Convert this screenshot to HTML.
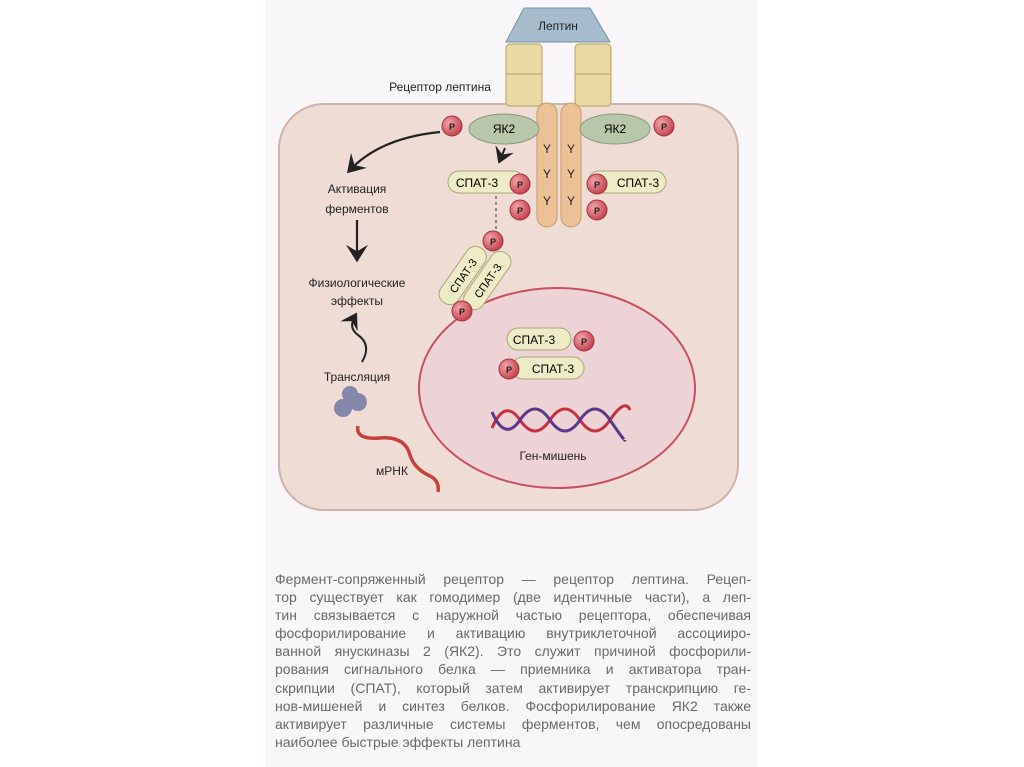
<!DOCTYPE html>
<html><head><meta charset="utf-8"><style>
body{margin:0;background:#fff;width:1024px;height:767px;overflow:hidden;font-family:"Liberation Sans",sans-serif}
#panel{position:absolute;left:265px;top:0;width:492px;height:767px;background:#f8f6f8}
#cap{position:absolute;left:275px;top:570px;width:476px;font-size:14px;line-height:18.1px;color:#6a6a6a}
#cap div{text-align:justify;text-align-last:justify;white-space:nowrap;height:18.1px}
#cap div.l{text-align-last:left}
svg{position:absolute;left:0;top:0}
svg text{font-family:"Liberation Sans",sans-serif}
</style></head><body>
<div id="panel"></div>
<svg width="1024" height="767">
<defs>
<radialGradient id="pg" cx="0.35" cy="0.35" r="0.7"><stop offset="0" stop-color="#f3a3a8"/><stop offset="1" stop-color="#c2404c"/></radialGradient>
<marker id="ar" markerWidth="10" markerHeight="10" refX="6" refY="5" orient="auto"><path d="M0,0 L8,5 L0,10 L3,5z" fill="#222"/></marker>
</defs>
<rect x="279" y="104" width="459" height="406" rx="45" fill="#efdcd5" stroke="#cdb3aa" stroke-width="2"/>
<ellipse cx="557" cy="388" rx="138" ry="100" fill="#edd3d6" stroke="#c85060" stroke-width="2"/>
<polygon points="524,8 590,8 610,42 506,42" fill="#a6bccd" stroke="#7890a0"/>
<text x="558" y="30" font-size="12" text-anchor="middle" fill="#222">Лептин</text>
<g fill="#e9d9a4" stroke="#b9a060">
<rect x="506" y="44" width="36" height="62" rx="4"/><rect x="575" y="44" width="36" height="62" rx="4"/>
</g>
<g stroke="#b9a060" fill="none"><line x1="506" y1="74" x2="542" y2="74"/><line x1="575" y1="74" x2="611" y2="74"/></g>
<text x="440" y="91" font-size="12" text-anchor="middle" fill="#222">Рецептор лептина</text>
<g fill="#ecc196" stroke="#c39a6e"><rect x="537" y="103" width="20" height="124" rx="10"/><rect x="561" y="103" width="20" height="124" rx="10"/></g>
<g font-size="12" fill="#222" text-anchor="middle"><text x="547" y="153">Y</text><text x="571" y="153">Y</text><text x="547" y="178">Y</text><text x="571" y="178">Y</text><text x="547" y="205">Y</text><text x="571" y="205">Y</text></g>
<ellipse cx="504" cy="129" rx="35" ry="15" fill="#b8c7a9" stroke="#8a9a7c"/>
<ellipse cx="615" cy="129" rx="35" ry="15" fill="#b8c7a9" stroke="#8a9a7c"/>
<text x="504" y="133" font-size="12" text-anchor="middle">ЯК2</text>
<text x="615" y="133" font-size="12" text-anchor="middle">ЯК2</text>
<g fill="#eeecc6" stroke="#a9a67a">
<rect x="448" y="171" width="76" height="22" rx="11"/><rect x="588" y="171" width="78" height="22" rx="11"/>
<rect x="507" y="328" width="64" height="22" rx="11"/><rect x="512" y="357" width="72" height="22" rx="11"/>
</g>
<text x="477" y="187" font-size="12" text-anchor="middle">СПАТ-3</text>
<text x="638" y="187" font-size="12" text-anchor="middle">СПАТ-3</text>
<text x="534" y="344" font-size="12" text-anchor="middle">СПАТ-3</text>
<text x="553" y="373" font-size="12" text-anchor="middle">СПАТ-3</text>
<g transform="translate(475,278) rotate(-55)">
<rect x="-38" y="-22" width="66" height="21" rx="10" fill="#eeecc6" stroke="#a9a67a"/>
<rect x="-28" y="1" width="66" height="21" rx="10" fill="#eeecc6" stroke="#a9a67a"/>
<text x="-5" y="-7" font-size="11" text-anchor="middle">СПАТ-3</text><text x="5" y="16" font-size="11" text-anchor="middle">СПАТ-3</text>
</g>
<line x1="496" y1="196" x2="496" y2="232" stroke="#333" stroke-dasharray="3,3"/>
<g fill="url(#pg)" stroke="#a03040">
<circle cx="452" cy="126" r="10"/><circle cx="664" cy="126" r="10"/>
<circle cx="520" cy="184" r="10"/><circle cx="520" cy="210" r="10"/>
<circle cx="597" cy="184" r="10"/><circle cx="597" cy="210" r="10"/>
<circle cx="493" cy="241" r="10"/><circle cx="462" cy="311" r="10"/>
<circle cx="584" cy="341" r="10"/><circle cx="509" cy="369" r="10"/>
</g>
<g font-size="9" font-weight="bold" text-anchor="middle" fill="#222">
<text x="452" y="130">P</text><text x="664" y="130">P</text><text x="520" y="188">P</text><text x="520" y="214">P</text>
<text x="597" y="188">P</text><text x="597" y="214">P</text><text x="493" y="245">P</text><text x="462" y="315">P</text>
<text x="584" y="345">P</text><text x="509" y="373">P</text></g>
<path d="M440,132 Q380,138 350,170" fill="none" stroke="#222" stroke-width="2.2" marker-end="url(#ar)"/>
<path d="M505,148 L500,160" stroke="#222" stroke-width="2" marker-end="url(#ar)"/>
<path d="M357,220 L357,258" stroke="#222" stroke-width="2.2" marker-end="url(#ar)"/>
<path d="M362,362 Q372,345 358,335 Q348,328 355,316" fill="none" stroke="#222" stroke-width="2" marker-end="url(#ar)"/>
<g font-size="12" text-anchor="middle" fill="#222">
<text x="357" y="193">Активация</text><text x="357" y="213">ферментов</text>
<text x="357" y="287">Физиологические</text><text x="357" y="305">эффекты</text>
<text x="357" y="381">Трансляция</text><text x="392" y="475">мРНК</text>
<text x="553" y="460">Ген-мишень</text></g>
<g fill="#8587aa"><circle cx="343" cy="408" r="9"/><circle cx="358" cy="402" r="9"/><circle cx="350" cy="394" r="8"/></g>
<path d="M358,426 Q355,440 380,438 Q405,436 410,455 Q414,468 428,475 Q440,480 438,492" fill="none" stroke="#c8403c" stroke-width="3.5"/>
<path d="M492,428 Q505,398 520,420 T550,420 T580,420 T610,420 T630,410" fill="none" stroke="#c83040" stroke-width="3"/>
<path d="M492,412 Q505,442 520,420 T550,420 T580,420 T610,420 T625,440" fill="none" stroke="#5a3a8a" stroke-width="3"/>
</svg>
<div id="cap">
<div>Фермент-сопряженный рецептор — рецептор лептина. Рецеп-</div>
<div>тор существует как гомодимер (две идентичные части), а леп-</div>
<div>тин связывается с наружной частью рецептора, обеспечивая</div>
<div>фосфорилирование и активацию внутриклеточной ассоцииро-</div>
<div>ванной янускиназы 2 (ЯК2). Это служит причиной фосфорили-</div>
<div>рования сигнального белка — приемника и активатора тран-</div>
<div>скрипции (СПАТ), который затем активирует транскрипцию ге-</div>
<div>нов-мишеней и синтез белков. Фосфорилирование ЯК2 также</div>
<div>активирует различные системы ферментов, чем опосредованы</div>
<div class="l">наиболее быстрые эффекты лептина</div>
</div>
</body></html>
